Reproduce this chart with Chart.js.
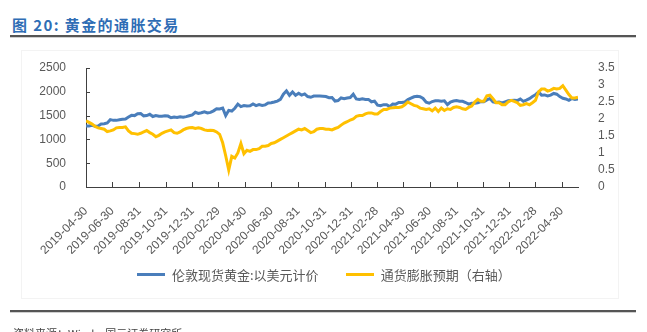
<!DOCTYPE html>
<html>
<head>
<meta charset="utf-8">
<script src="https://cdn.jsdelivr.net/npm/chart.js@4.4.0/dist/chart.umd.min.js"></script>
<style>
  html, body { margin: 0; padding: 0; background: #fff; }
  body { width: 647px; height: 332px; position: relative; overflow: hidden; font-family: "Noto Sans CJK SC", sans-serif; }
  .title { position: absolute; left: 12px; top: 14px; font-size: 15px; font-weight: bold; letter-spacing: 1.4px; color: #2f6db5; white-space: nowrap; }
  .rule { position: absolute; left: 10px; width: 626px; height: 2px; background: #555; box-shadow: 0 1px 0 #cfcfcf; }
  .frame { position: absolute; left: 21px; top: 50px; width: 596px; height: 247px; border: 1px solid #f3f3f3; }
  .source { position: absolute; left: 13px; top: 325px; font-size: 11px; color: #444; white-space: nowrap; }
  #chart { position: absolute; left: 0; top: 0; }
  #legend { position: absolute; left: 137px; top: 265px; height: 18px; display: flex; align-items: center; font-size: 13px; color: #595959; white-space: nowrap; }
  #legend .item { display: flex; align-items: center; margin-right: 27px; }
  #legend .swatch { width: 28px; height: 3px; margin-right: 7px; }
</style>
</head>
<body>
<div class="title">图 20: 黄金的通胀交易</div>
<div class="rule" style="top:35px"></div>
<div class="frame"></div>
<canvas id="chart" width="647" height="332"></canvas>
<div id="legend"></div>
<div class="rule" style="top:310px"></div>
<div class="source">资料来源：Wind，国元证券研究所</div>

<script>
// weekly samples starting from this date (one value every 7 days)
const startDate = '2019-04-30';
const endDay = 1134;

const tickLabels = [
  '2019-04-30', '2019-06-30', '2019-08-31', '2019-10-31', '2019-12-31',
  '2020-02-29', '2020-04-30', '2020-06-30', '2020-08-31', '2020-10-31', '2020-12-31',
  '2021-02-28', '2021-04-30', '2021-06-30', '2021-08-31', '2021-10-31', '2021-12-31',
  '2022-02-28', '2022-04-30',
];

const seriesNames = ['伦敦现货黄金:以美元计价', '通货膨胀预期（右轴）'];

// London spot gold, USD/oz
const goldWeekly = [
  1283, 1280, 1295, 1275, 1283, 1325, 1330, 1345, 1415, 1400,
  1400, 1412, 1422, 1430, 1470, 1505, 1500, 1540, 1545, 1495,
  1500, 1528, 1480, 1500, 1485, 1488, 1495, 1490, 1455, 1470,
  1460, 1475, 1465, 1478, 1498, 1515, 1570, 1545, 1560, 1580,
  1555, 1568, 1600, 1645, 1640, 1660, 1500, 1610, 1595, 1655,
  1740, 1690, 1712, 1700, 1705, 1745, 1710, 1730, 1715, 1725,
  1765, 1770, 1785, 1805, 1840, 1950, 2020, 1925, 1995, 1925,
  1970, 1930, 1955, 1900, 1885, 1910, 1912, 1910, 1905, 1900,
  1875, 1880, 1805, 1815, 1870, 1855, 1870, 1880, 1950, 1850,
  1840, 1855, 1840, 1840, 1790, 1805, 1720, 1710, 1730, 1730,
  1690, 1745, 1740, 1775, 1775, 1785, 1835, 1865, 1895, 1905,
  1895, 1860, 1780, 1760, 1795, 1810, 1810, 1800, 1810, 1730,
  1785, 1805, 1815, 1800, 1800, 1775, 1740, 1760, 1760, 1770,
  1795, 1790, 1830, 1860, 1790, 1775, 1785, 1765, 1790, 1810,
  1815, 1820, 1815, 1850, 1800, 1825, 1855, 1900, 1940, 1995,
  1930, 1935, 1915, 1930, 1965, 1950, 1900, 1865, 1850, 1820,
  1860, 1840, 1850,
];

// inflation expectation, %
const inflationWeekly = [
  1.95, 1.90, 1.85, 1.78, 1.74, 1.72, 1.70, 1.63, 1.65, 1.68,
  1.74, 1.75, 1.75, 1.77, 1.65, 1.58, 1.57, 1.55, 1.58, 1.62,
  1.66, 1.60, 1.55, 1.48, 1.52, 1.58, 1.62, 1.65, 1.68, 1.60,
  1.58, 1.62, 1.68, 1.72, 1.74, 1.75, 1.72, 1.74, 1.72, 1.68,
  1.66, 1.67, 1.66, 1.62, 1.55, 1.30, 0.92, 0.50, 0.90, 0.85,
  1.00, 1.28, 0.98, 1.08, 1.05, 1.10, 1.10, 1.13, 1.20, 1.20,
  1.22, 1.28, 1.30, 1.35, 1.40, 1.45, 1.50, 1.55, 1.60, 1.65,
  1.70, 1.68, 1.72, 1.66, 1.60, 1.63, 1.70, 1.72, 1.72, 1.70,
  1.70, 1.68, 1.72, 1.75, 1.82, 1.88, 1.92, 1.97, 2.00, 2.08,
  2.10, 2.10, 2.15, 2.18, 2.18, 2.15, 2.15, 2.22, 2.28, 2.28,
  2.32, 2.33, 2.34, 2.34, 2.36, 2.42, 2.50, 2.45, 2.40, 2.38,
  2.32, 2.30, 2.28, 2.30, 2.24, 2.32, 2.22, 2.32, 2.25, 2.30,
  2.28, 2.34, 2.36, 2.34, 2.30, 2.28, 2.34, 2.38, 2.50, 2.58,
  2.52, 2.52, 2.68, 2.70, 2.60, 2.48, 2.48, 2.42, 2.42, 2.50,
  2.55, 2.52, 2.48, 2.40, 2.42, 2.45, 2.42, 2.48, 2.55, 2.80,
  2.88, 2.88, 2.82, 2.85, 2.90, 2.88, 2.90, 2.98, 2.85, 2.72,
  2.62, 2.62, 2.64,
];

const BLUE = '#4a7ebb';
const GOLD = '#ffc000';
const AXIS = '#404040';
const TEXT = '#595959';

function dayOffset(dateStr) {
  const [y0, m0, d0] = startDate.split('-').map(Number);
  const [y, m, d] = dateStr.split('-').map(Number);
  return Math.round((Date.UTC(y, m - 1, d) - Date.UTC(y0, m0 - 1, d0)) / 86400000);
}

function toPoints(values) {
  return values.map((v, i) => ({ x: i * 7, y: v }));
}

const tickDays = tickLabels.map(dayOffset);

// small tick marks pointing into the plot, like the original axes
const innerTicks = {
  id: 'innerTicks',
  afterDatasetsDraw(chart) {
    const { ctx, chartArea, scales } = chart;
    ctx.save();
    ctx.strokeStyle = AXIS;
    ctx.lineWidth = 1;
    ctx.beginPath();
    scales.x.ticks.forEach((t) => {
      const px = Math.round(scales.x.getPixelForValue(t.value)) + 0.5;
      ctx.moveTo(px, chartArea.bottom);
      ctx.lineTo(px, chartArea.bottom - 5);
    });
    scales.y.ticks.forEach((t) => {
      const py = Math.round(scales.y.getPixelForValue(t.value)) + 0.5;
      ctx.moveTo(chartArea.left, py);
      ctx.lineTo(chartArea.left + 4, py);
    });
    ctx.stroke();
    ctx.restore();
  },
};

const tickFont = { family: '"Liberation Sans", Arial, sans-serif', size: 12 };

const chart = new Chart(document.getElementById('chart'), {
  type: 'line',
  data: {
    datasets: [
      {
        label: seriesNames[0],
        data: toPoints(goldWeekly),
        yAxisID: 'y',
        borderColor: BLUE,
        backgroundColor: BLUE,
        borderWidth: 3,
        pointRadius: 0,
        tension: 0,
        order: 1,
      },
      {
        label: seriesNames[1],
        data: toPoints(inflationWeekly),
        yAxisID: 'y1',
        borderColor: GOLD,
        backgroundColor: GOLD,
        borderWidth: 3,
        pointRadius: 0,
        tension: 0,
        order: 0,
      },
    ],
  },
  options: {
    responsive: false,
    animation: false,
    layout: { padding: { top: 68, bottom: 78, left: 0, right: 0 } },
    plugins: {
      tooltip: { enabled: false },
      legend: { display: false },
    },
    scales: {
      x: {
        type: 'linear',
        min: 0,
        max: endDay,
        afterBuildTicks: (scale) => { scale.ticks = tickDays.map((v) => ({ value: v })); },
        afterFit: (scale) => { scale.height = 67; },
        grid: { display: false },
        border: { display: true, color: AXIS, width: 1 },
        ticks: {
          autoSkip: false,
          maxRotation: 45,
          minRotation: 45,
          padding: 9,
          color: TEXT,
          font: tickFont,
          callback: (v, i) => tickLabels[i],
        },
      },
      y: {
        position: 'left',
        min: 0,
        max: 2500,
        afterFit: (scale) => { scale.width = 86; },
        grid: { display: false },
        border: { display: true, color: AXIS, width: 1 },
        ticks: { autoSkip: false, stepSize: 500, padding: 12, color: TEXT, font: tickFont, callback: (v) => String(v) },
      },
      y1: {
        position: 'right',
        min: 0,
        max: 3.5,
        afterFit: (scale) => { scale.width = 69; },
        grid: { display: false },
        border: { display: false },
        ticks: { autoSkip: false, stepSize: 0.5, padding: 12, color: TEXT, font: tickFont, callback: (v) => String(v) },
      },
    },
  },
  plugins: [innerTicks],
});

// legend below the axis, one swatch per dataset
document.getElementById('legend').innerHTML = chart.data.datasets.map((ds) => (
  `<span class="item"><span class="swatch" style="background:${ds.borderColor}"></span>${ds.label}</span>`
)).join('');
</script>
</body>
</html>
